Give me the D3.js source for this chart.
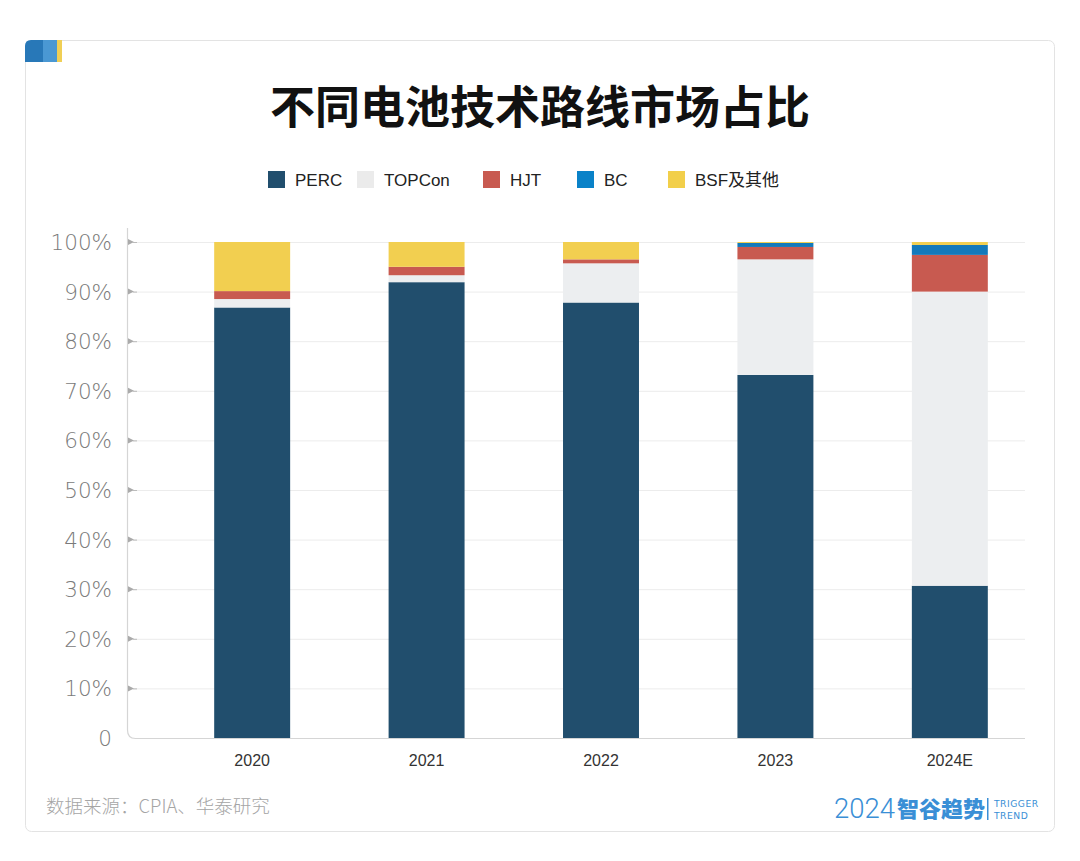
<!DOCTYPE html>
<html>
<head>
<meta charset="utf-8">
<script src="https://cdn.jsdelivr.net/npm/d3@7/dist/d3.min.js"></script>
<style>
  html, body { margin: 0; padding: 0; background: #ffffff; }
  svg { display: block; }
</style>
</head>
<body>
<svg id="chart" width="1080" height="861"></svg>
<script>
// ---- data ----
const years = ["2020", "2021", "2022", "2023", "2024E"];
const seriesNames = ["PERC", "TOPCon", "HJT", "BC", "BSF及其他"];
const perc   = [86.8, 91.9, 87.8, 73.2, 30.7];
const topcon = [1.7, 1.4, 7.9, 23.3, 59.3];
const hjt    = [1.6, 1.7, 0.8, 2.5, 7.4];
const bc     = [0.0, 0.0, 0.0, 0.8, 2.0];
const bsf    = [9.9, 5.0, 3.5, 0.2, 0.6];
const yTicks = [0, 10, 20, 30, 40, 50, 60, 70, 80, 90, 100];
const colors = ["#214e6d", "#eceef0", "#c85a50", "#1479ba", "#f2cf50"];
const legendColors = ["#214e6d", "#ebebeb", "#c85a50", "#0a82c8", "#f2cf4a"];
const title = "不同电池技术路线市场占比";
const source = "数据来源：CPIA、华泰研究";

const seriesValues = [perc, topcon, hjt, bc, bsf];
const rows = years.map((y, i) => {
  const r = { year: y };
  seriesNames.forEach((s, k) => r[s] = seriesValues[k][i]);
  return r;
});

const svg = d3.select("#chart");

// card
svg.append("rect").attr("x", 25.5).attr("y", 40.5).attr("width", 1029).attr("height", 791)
  .attr("rx", 6).attr("fill", "#fff").attr("stroke", "#e3e3e3").attr("stroke-width", 1);
// top-left tab
const tab = svg.append("g");
tab.append("path").attr("d", "M25,62 L25,46 Q25,40 31,40 L43,40 L43,62 Z").attr("fill", "#2878b8");
tab.append("rect").attr("x", 43).attr("y", 40).attr("width", 14).attr("height", 22).attr("fill", "#4a98d3");
tab.append("rect").attr("x", 57).attr("y", 40).attr("width", 5).attr("height", 22).attr("fill", "#f0cf55");

// title
svg.append("text").attr("x", 540).attr("y", 124).attr("text-anchor", "middle")
  .attr("font-family", "'Noto Sans CJK SC', sans-serif").attr("font-weight", 700)
  .attr("font-size", 45).attr("fill", "#111").text(title);

// legend
const legendX = [268, 357, 483, 577, 668];
const lg = svg.append("g");
seriesNames.forEach((s, i) => {
  lg.append("rect").attr("x", legendX[i]).attr("y", 171).attr("width", 17).attr("height", 17)
    .attr("fill", legendColors[i]);
  lg.append("text").attr("x", legendX[i] + 27).attr("y", 185.5)
    .attr("font-family", "'Liberation Sans', 'Noto Sans CJK SC', sans-serif")
    .attr("font-size", 17).attr("fill", "#222").text(s);
});

// scales
const x = d3.scaleBand().domain(years).range([165, 1037]).paddingInner(0.5645).paddingOuter(0.282);
const y = d3.scaleLinear().domain([0, 100]).range([738, 242]);

// grid
const grid = svg.append("g");
grid.selectAll("line").data(yTicks.filter(d => d > 0)).join("line")
  .attr("x1", 127).attr("x2", 1025)
  .attr("y1", d => y(d) + 0.5).attr("y2", d => y(d) + 0.5)
  .attr("stroke", "#ececec").attr("stroke-width", 1);

// stacked bars
const stack = d3.stack().keys(seriesNames)(rows);
const bars = svg.append("g");
stack.forEach((layer, k) => {
  bars.append("g").attr("fill", colors[k])
    .selectAll("rect").data(layer).join("rect")
    .attr("x", d => x(d.data.year))
    .attr("width", x.bandwidth())
    .attr("y", d => y(d[1]))
    .attr("height", d => Math.max(0, y(d[0]) - y(d[1])));
});

// axis lines (y axis with rounded corner into x axis)
svg.append("path")
  .attr("d", `M127.5,228 L127.5,${y(0) - 8} Q127.5,${y(0) + 0.5} 135.5,${y(0) + 0.5} L1025,${y(0) + 0.5}`)
  .attr("fill", "none").attr("stroke", "#d5d5d5").attr("stroke-width", 1.2);

// y ticks: small triangles + labels
const yAxis = svg.append("g");
const yt = yAxis.selectAll("g").data(yTicks).join("g")
  .attr("transform", d => `translate(0,${y(d)})`);
yt.filter(d => d > 0).append("path")
  .attr("d", "M128,-3 L134,0 L128,3 Z").attr("fill", "#aaa");
yt.filter(d => d > 0).append("line").attr("x1", 133).attr("x2", 137).attr("y1", 0.5).attr("y2", 0.5)
  .attr("stroke", "#bbb");
yt.append("text").attr("x", 112).attr("y", 8)
  .attr("text-anchor", "end")
  .attr("font-family", "'DejaVu Sans', sans-serif").attr("font-weight", 200)
  .attr("font-size", 21.5).attr("fill", "#7a7a7a")
  .text(d => d === 0 ? "0" : d + "%");

// x labels
const xAxis = svg.append("g");
xAxis.selectAll("text").data(years).join("text")
  .attr("x", d => x(d) + x.bandwidth() / 2).attr("y", 766)
  .attr("text-anchor", "middle")
  .attr("font-family", "'Liberation Sans', sans-serif")
  .attr("font-size", 16).attr("fill", "#333").text(d => d);

// source
svg.append("text").attr("x", 46).attr("y", 813)
  .attr("font-family", "'Noto Sans CJK SC', sans-serif").attr("font-weight", 300)
  .attr("font-size", 18.5).attr("fill", "#a5a5a5").text(source);

// logo
const logo = svg.append("g").attr("fill", "#3a8fd6");
logo.append("text").attr("x", 834).attr("y", 818)
  .attr("font-family", "Roboto, sans-serif").attr("font-weight", 300)
  .attr("font-size", 27.5).text("2024");
logo.append("text").attr("x", 897).attr("y", 817)
  .attr("font-family", "'Noto Sans CJK SC', sans-serif").attr("font-weight", 900)
  .attr("font-size", 22).text("智谷趋势");
logo.append("rect").attr("x", 987).attr("y", 798).attr("width", 1.5).attr("height", 22);
logo.append("text").attr("x", 994).attr("y", 807)
  .attr("font-family", "'DejaVu Sans', sans-serif").attr("font-size", 9.2).attr("letter-spacing", 0.5).text("TRIGGER");
logo.append("text").attr("x", 994).attr("y", 819)
  .attr("font-family", "'DejaVu Sans', sans-serif").attr("font-size", 9.2).attr("letter-spacing", 0.5).text("TREND");
</script>
</body>
</html>
